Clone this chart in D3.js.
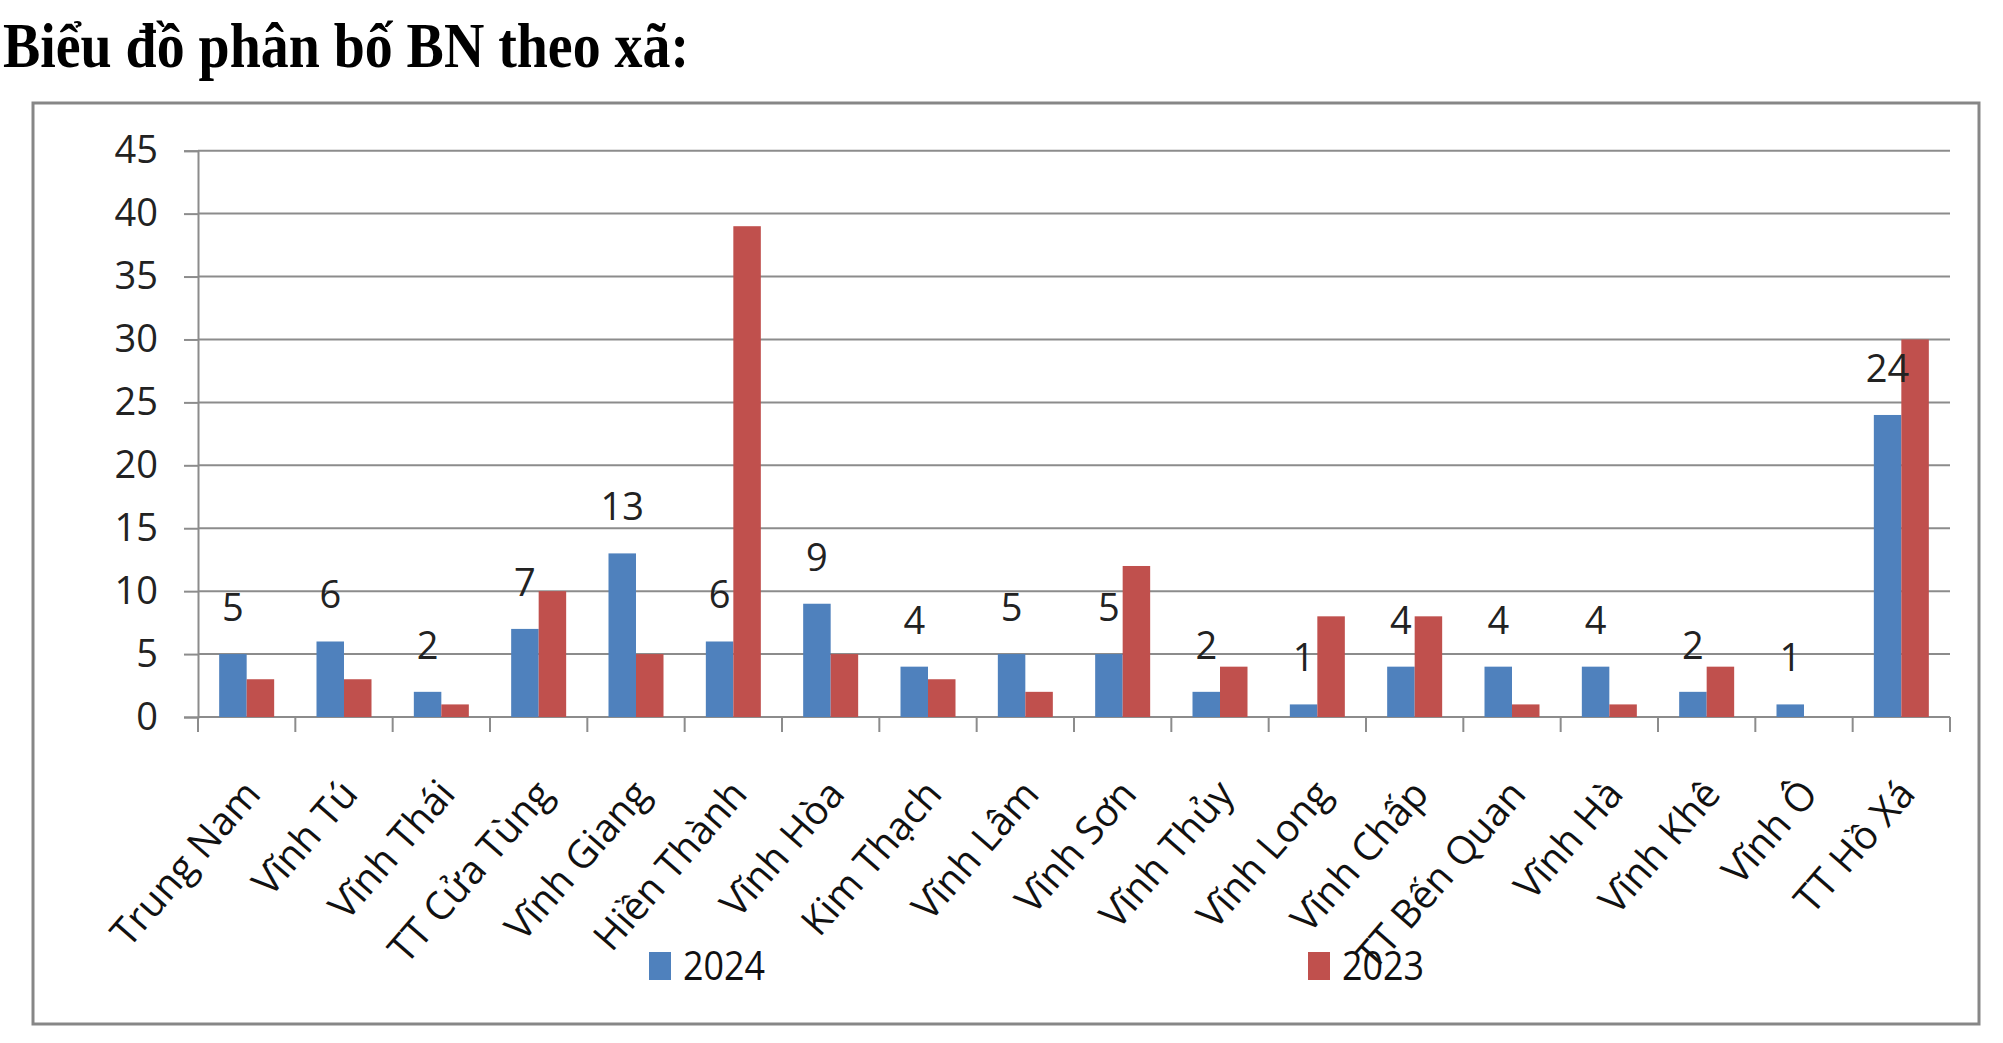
<!DOCTYPE html>
<html>
<head>
<meta charset="utf-8">
<script src="https://cdn.jsdelivr.net/npm/d3@7"></script>
<style>
  html, body { margin: 0; padding: 0; background: #fff; }
  svg { display: block; }
</style>
</head>
<body>
<div id="chart"></div>
<script>
const communes = [
  "Trung Nam", "Vĩnh Tú", "Vĩnh Thái", "TT Cửa Tùng", "Vĩnh Giang", "Hiền Thành",
  "Vĩnh Hòa", "Kim Thạch", "Vĩnh Lâm", "Vĩnh Sơn", "Vĩnh Thủy", "Vĩnh Long",
  "Vĩnh Chấp", "TT Bến Quan", "Vĩnh Hà", "Vĩnh Khê", "Vĩnh Ô", "TT Hồ Xá",
];
const cases2024 = [5, 6, 2, 7, 13, 6, 9, 4, 5, 5, 2, 1, 4, 4, 4, 2, 1, 24];
const cases2023 = [3, 3, 1, 10, 5, 39, 5, 3, 2, 12, 4, 8, 8, 1, 1, 4, 0, 30];
const yTicks = [0, 5, 10, 15, 20, 25, 30, 35, 40, 45];

const series = [
  { label: "2024", values: cases2024, color: "#4F81BD" },
  { label: "2023", values: cases2023, color: "#C0504D" },
];

const width = 2003,
  height = 1043;
const plot = { left: 198, right: 1950, top: 150.7, bottom: 717 };
const font = "'Open Sans', 'DejaVu Sans', sans-serif";

const svg = d3
  .select("#chart")
  .append("svg")
  .attr("width", width)
  .attr("height", height);

// title
svg
  .append("text")
  .attr("x", 3)
  .attr("y", 67)
  .attr("font-family", "'Liberation Serif', 'DejaVu Serif', serif")
  .attr("font-weight", "bold")
  .attr("font-size", "64px")
  .attr("textLength", 686)
  .attr("lengthAdjust", "spacingAndGlyphs")
  .attr("fill", "#000")
  .text("Biểu đồ phân bố BN theo xã:");

// chart frame
svg
  .append("rect")
  .attr("x", 33)
  .attr("y", 103)
  .attr("width", 1946)
  .attr("height", 921)
  .attr("fill", "#fff")
  .attr("stroke", "#878787")
  .attr("stroke-width", 3);

const x0 = d3.scaleBand().domain(communes).range([plot.left, plot.right]);
const barW = 27.5;
const x1 = d3
  .scaleBand()
  .domain(series.map((s) => s.label))
  .range([x0.bandwidth() / 2 - barW, x0.bandwidth() / 2 + barW]);
const y = d3.scaleLinear().domain([0, 45]).range([plot.bottom, plot.top]);

// gridlines + left axis
const yAxis = d3
  .axisLeft(y)
  .tickValues(yTicks)
  .tickSize(14)
  .tickPadding(26);
const gy = svg.append("g").attr("transform", `translate(${plot.left},0)`).call(yAxis);
gy.select(".domain").attr("stroke", "#8c8c8c").attr("stroke-width", 2);
gy.selectAll(".tick line").attr("stroke", "#8c8c8c").attr("stroke-width", 2);
gy.selectAll(".tick text")
  .attr("font-family", font)
  .attr("font-size", "38px")
  .attr("fill", "#222");

svg
  .append("g")
  .selectAll("line")
  .data(yTicks)
  .join("line")
  .attr("x1", plot.left)
  .attr("x2", plot.right)
  .attr("y1", (d) => y(d))
  .attr("y2", (d) => y(d))
  .attr("stroke", "#8c8c8c")
  .attr("stroke-width", 2);

// bottom tick marks at category boundaries
svg
  .append("g")
  .selectAll("line")
  .data(d3.range(communes.length + 1))
  .join("line")
  .attr("x1", (i) => plot.left + i * x0.step())
  .attr("x2", (i) => plot.left + i * x0.step())
  .attr("y1", plot.bottom)
  .attr("y2", plot.bottom + 15)
  .attr("stroke", "#8c8c8c")
  .attr("stroke-width", 2);

// bars
const groups = svg
  .append("g")
  .selectAll("g")
  .data(communes)
  .join("g")
  .attr("transform", (d) => `translate(${x0(d)},0)`);

groups
  .selectAll("rect")
  .data((d, i) => series.map((s) => ({ key: s.label, value: s.values[i], color: s.color })))
  .join("rect")
  .attr("x", (d) => x1(d.key))
  .attr("width", x1.bandwidth())
  .attr("y", (d) => y(d.value))
  .attr("height", (d) => y(0) - y(d.value))
  .attr("fill", (d) => d.color);

// data labels (2024 only)
svg
  .append("g")
  .selectAll("text")
  .data(communes)
  .join("text")
  .attr("x", (d) => x0(d) + x1("2024") + x1.bandwidth() / 2)
  .attr("y", (d, i) => y(cases2024[i]) - 33)
  .attr("text-anchor", "middle")
  .attr("font-family", font)
  .attr("font-size", "38px")
  .attr("fill", "#222")
  .text((d, i) => cases2024[i]);

// category labels
svg
  .append("g")
  .selectAll("text")
  .data(communes)
  .join("text")
  .attr("transform", (d) => `translate(${x0(d) + x0.bandwidth() / 2 + 4},${plot.bottom + 68}) rotate(-49)`)
  .attr("text-anchor", "end")
  .attr("dominant-baseline", "central")
  .attr("font-family", font)
  .attr("font-size", "39px")
  .attr("fill", "#111")
  .text((d) => d);

// legend
const legendPos = [649, 1308];
const legend = svg
  .append("g")
  .selectAll("g")
  .data(series)
  .join("g")
  .attr("transform", (d, i) => `translate(${legendPos[i]},952)`);
legend
  .append("rect")
  .attr("width", 22)
  .attr("height", 28)
  .attr("fill", (d) => d.color);
legend
  .append("text")
  .attr("x", 34)
  .attr("y", 28)
  .attr("font-family", font)
  .attr("font-size", "40px")
  .attr("textLength", 82)
  .attr("lengthAdjust", "spacingAndGlyphs")
  .attr("fill", "#111")
  .text((d) => d.label);
</script>
</body>
</html>
